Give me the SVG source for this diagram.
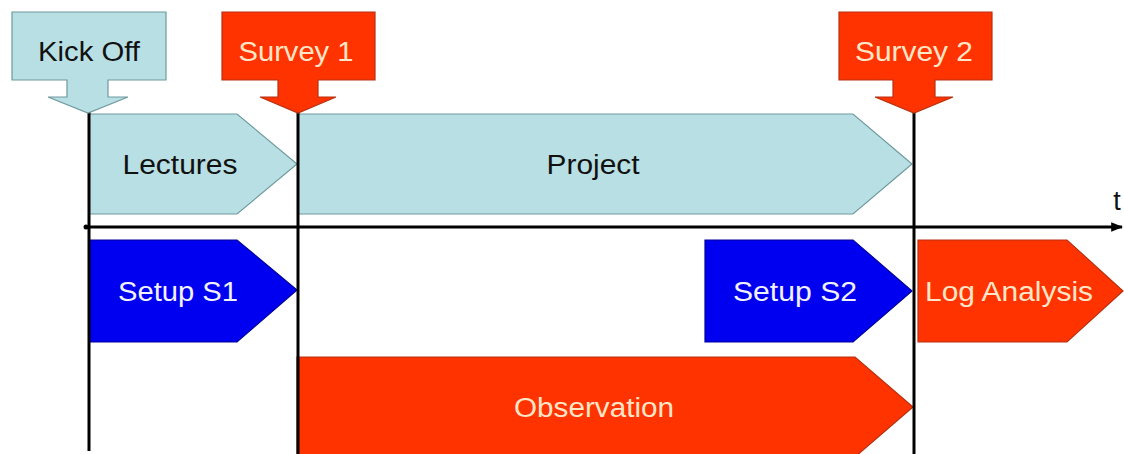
<svg xmlns="http://www.w3.org/2000/svg" width="1124" height="454" viewBox="0 0 1124 454">
<defs>
<style>
.lb{fill:#B8DFE3;stroke:#6E9A9E;stroke-width:1.2}
.rd{fill:#FF3300;stroke:#B83010;stroke-width:1.2}
.bl{fill:#0000F0;stroke:#00009A;stroke-width:1.2}
.ln{stroke:#000;stroke-width:3;fill:none}
text{font-family:"Liberation Sans",Arial,sans-serif;font-size:27px;text-anchor:middle}
.tk{fill:#111}
.tr{fill:#FFE6C8}
.tw{fill:#F2F2FF}
</style>
<marker id="ah" viewBox="0 0 10 10" refX="9" refY="5" markerWidth="4" markerHeight="4" orient="auto" markerUnits="strokeWidth">
<path d="M0,1 L10,5 L0,9 z" fill="#000"/>
</marker>
</defs>
<rect width="1124" height="454" fill="#fff"/>

<g id="lectures">
<polygon class="lb" points="89,114 237,114 297,164 237,214 89,214"/>
<text class="tk" x="180" y="174" textLength="115" lengthAdjust="spacingAndGlyphs">Lectures</text>
</g>
<g id="project">
<polygon class="lb" points="298,114 853,114 912,164 853,214 298,214"/>
<text class="tk" x="593" y="174" textLength="93" lengthAdjust="spacingAndGlyphs">Project</text>
</g>
<g id="setup-s1">
<polygon class="bl" points="89,240 237,240 297,290 237,342 89,342"/>
<text class="tw" x="178" y="301" textLength="120" lengthAdjust="spacingAndGlyphs">Setup S1</text>
</g>
<g id="setup-s2">
<polygon class="bl" points="705,240 853,240 912,291 853,342 705,342"/>
<text class="tw" x="795" y="301" textLength="124" lengthAdjust="spacingAndGlyphs">Setup S2</text>
</g>
<g id="log-analysis">
<polygon class="rd" points="918,240 1067,240 1123,291 1067,342 918,342"/>
<text class="tr" x="1009" y="301" textLength="168" lengthAdjust="spacingAndGlyphs">Log Analysis</text>
</g>
<g id="observation">
<polygon class="rd" points="297,357 855,357 913,407 855,457 297,457"/>
<text class="tr" x="594" y="417" textLength="160" lengthAdjust="spacingAndGlyphs">Observation</text>
</g>

<g id="connectors">
<line class="ln" x1="85" y1="227" x2="1122" y2="227" marker-end="url(#ah)"/>
<circle cx="86" cy="227" r="2.5" fill="#000"/>
<line class="ln" x1="89" y1="112" x2="89" y2="451"/>
<line class="ln" x1="298" y1="112" x2="298" y2="454"/>
<line class="ln" x1="914" y1="112" x2="914" y2="454"/>
</g>

<g id="kick-off">
<polygon class="lb" points="12,12 166,12 166,80 108,80 108,97 128,97 88,113 48,97 67,97 67,80 12,80"/>
<text class="tk" x="89" y="61" textLength="102" lengthAdjust="spacingAndGlyphs">Kick Off</text>
</g>
<g id="survey-1">
<polygon class="rd" points="222,12 375,12 375,80 318,80 318,97 336,97 298,113 260,97 278,97 278,80 222,80"/>
<text class="tr" x="296" y="61" textLength="115" lengthAdjust="spacingAndGlyphs">Survey 1</text>
</g>
<g id="survey-2">
<polygon class="rd" points="839,12 992,12 992,80 935,80 935,97 953,97 914,113 875,97 893,97 893,80 839,80"/>
<text class="tr" x="914" y="61" textLength="118" lengthAdjust="spacingAndGlyphs">Survey 2</text>
</g>

<g id="t-label">
<text class="tk" x="1117" y="210" font-size="28">t</text>
</g>
</svg>
